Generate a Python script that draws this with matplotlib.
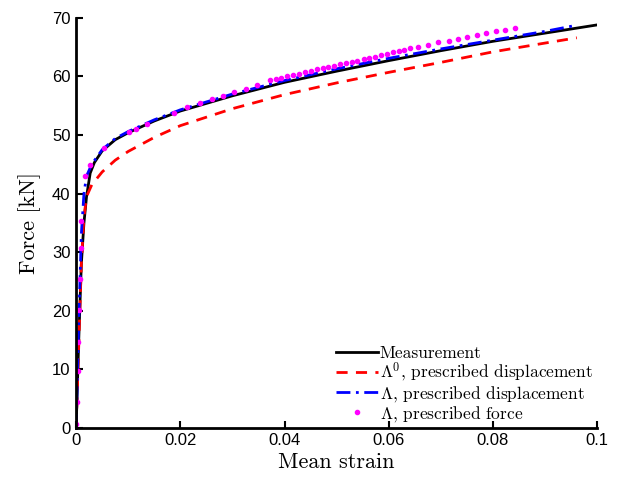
import matplotlib
matplotlib.use('Agg')
import matplotlib.pyplot as plt

plt.rcParams['mathtext.fontset'] = 'cm'

# Measurement
meas_strain = [0, 0.0005, 0.001, 0.0015, 0.002, 0.0027, 0.0035, 0.005, 0.0075, 0.010,
               0.015, 0.02, 0.03, 0.04, 0.05, 0.06, 0.07, 0.08, 0.09, 0.1]
meas_force = [0, 15, 28, 35, 39.5, 43.5, 45.3, 47.3, 49.2, 50.4,
              52.4, 54.1, 56.7, 59.0, 60.9, 62.7, 64.4, 66.0, 67.4, 68.8]

# Lambda^0, prescribed displacement
lam0_strain = [0, 0.0005, 0.001, 0.0015, 0.002, 0.003, 0.005, 0.0075, 0.01, 0.015,
               0.02, 0.03, 0.04, 0.05, 0.06, 0.07, 0.08, 0.09, 0.0961]
lam0_force = [0, 14, 28, 36, 39.5, 41.5, 43.7, 45.7, 47.2, 49.6,
              51.6, 54.5, 56.9, 58.9, 60.7, 62.4, 64.2, 65.7, 66.6]

# Lambda, prescribed displacement
lamd_strain = [0, 0.0005, 0.001, 0.0015, 0.002, 0.003, 0.005, 0.0075, 0.01, 0.015,
               0.02, 0.03, 0.04, 0.05, 0.06, 0.07, 0.08, 0.09, 0.0958]
lamd_force = [0, 18, 33, 40, 43, 45, 47.5, 49.4, 50.6, 52.6,
              54.3, 57.0, 59.3, 61.3, 63.1, 64.7, 66.2, 67.7, 68.7]

# Lambda, prescribed force (points)
lamf_strain = [0, 0.00013, 0.0003, 0.00045, 0.0006, 0.0008, 0.0009, 0.001, 0.0017, 0.0027,
               0.0054, 0.0102, 0.0114, 0.0136, 0.0188, 0.0213, 0.0238, 0.0261, 0.0282,
               0.0303, 0.0326, 0.0347,
               0.0372, 0.0383, 0.0394, 0.0405, 0.0417, 0.0428, 0.0439, 0.0450, 0.0462,
               0.0473, 0.0484, 0.0495, 0.0507, 0.0518, 0.0529, 0.0540, 0.0552, 0.0563,
               0.0574, 0.0585, 0.0597, 0.0608, 0.0619, 0.0630, 0.0641,
               0.0657, 0.0676, 0.0695, 0.0715, 0.0732, 0.0751, 0.0769, 0.0787, 0.0806,
               0.0823, 0.0843]
lamf_force = [0.7, 4.4, 9.8, 14.7, 20.1, 25.4, 30.7, 35.4, 43.0, 44.9,
              47.8, 50.5, 51.0, 51.9, 53.8, 54.8, 55.5, 56.1, 56.7,
              57.3, 57.9, 58.5,
              59.4, 59.6, 59.8, 60.0, 60.3, 60.5, 60.7, 60.9, 61.2,
              61.4, 61.6, 61.8, 62.1, 62.3, 62.5, 62.7, 63.0, 63.2,
              63.4, 63.6, 63.9, 64.1, 64.3, 64.6, 64.8,
              65.1, 65.4, 65.8, 66.1, 66.4, 66.8, 67.1, 67.4, 67.7,
              68.0, 68.3]

xticks = [0, 0.02, 0.04, 0.06, 0.08, 0.1]
xticklabels = ['0', '0.02', '0.04', '0.06', '0.08', '0.1']
yticks = [0, 10, 20, 30, 40, 50, 60, 70]

fig = plt.figure(figsize=(6.24, 4.83), dpi=100)
ax = fig.add_axes([0.122, 0.114, 0.835, 0.849])

ax.plot(meas_strain, meas_force, '-', color='black', lw=2, label='Measurement')
ax.plot(lam0_strain, lam0_force, '--', color='red', lw=2, dashes=(4, 3),
        label=r'$\Lambda^0$, prescribed displacement')
ax.plot(lamd_strain, lamd_force, '-.', color='blue', lw=2, dashes=(5, 2, 1, 2),
        label=r'$\Lambda$, prescribed displacement')
ax.plot(lamf_strain, lamf_force, '.', color='magenta', ms=6,
        label=r'$\Lambda$, prescribed force')

ax.set_xlim(0, 0.1)
ax.set_ylim(0, 70)
ax.set_xticks(xticks)
ax.set_xticklabels(xticklabels)
ax.set_yticks(yticks)
for lab in ax.get_xticklabels() + ax.get_yticklabels():
    lab.set_fontfamily('Liberation Sans')
    lab.set_fontsize(12)

ax.spines['top'].set_visible(False)
ax.spines['right'].set_visible(False)
ax.spines['left'].set_linewidth(2)
ax.spines['bottom'].set_linewidth(2)
ax.tick_params(direction='in', length=5, width=1.5, pad=4)

ax.set_xlabel('Mean strain', fontfamily='cmr10', fontsize=16, labelpad=3)
ax.set_ylabel('Force [kN]', fontfamily='cmr10', fontsize=16, labelpad=8)

leg = ax.legend(loc='lower right', frameon=False, handlelength=2.4,
                handletextpad=0.1, labelspacing=0.0, borderaxespad=0.0,
                borderpad=0.25, prop={'family': 'cmr10', 'size': 12.5})

fig.savefig('out.png', dpi=100)
